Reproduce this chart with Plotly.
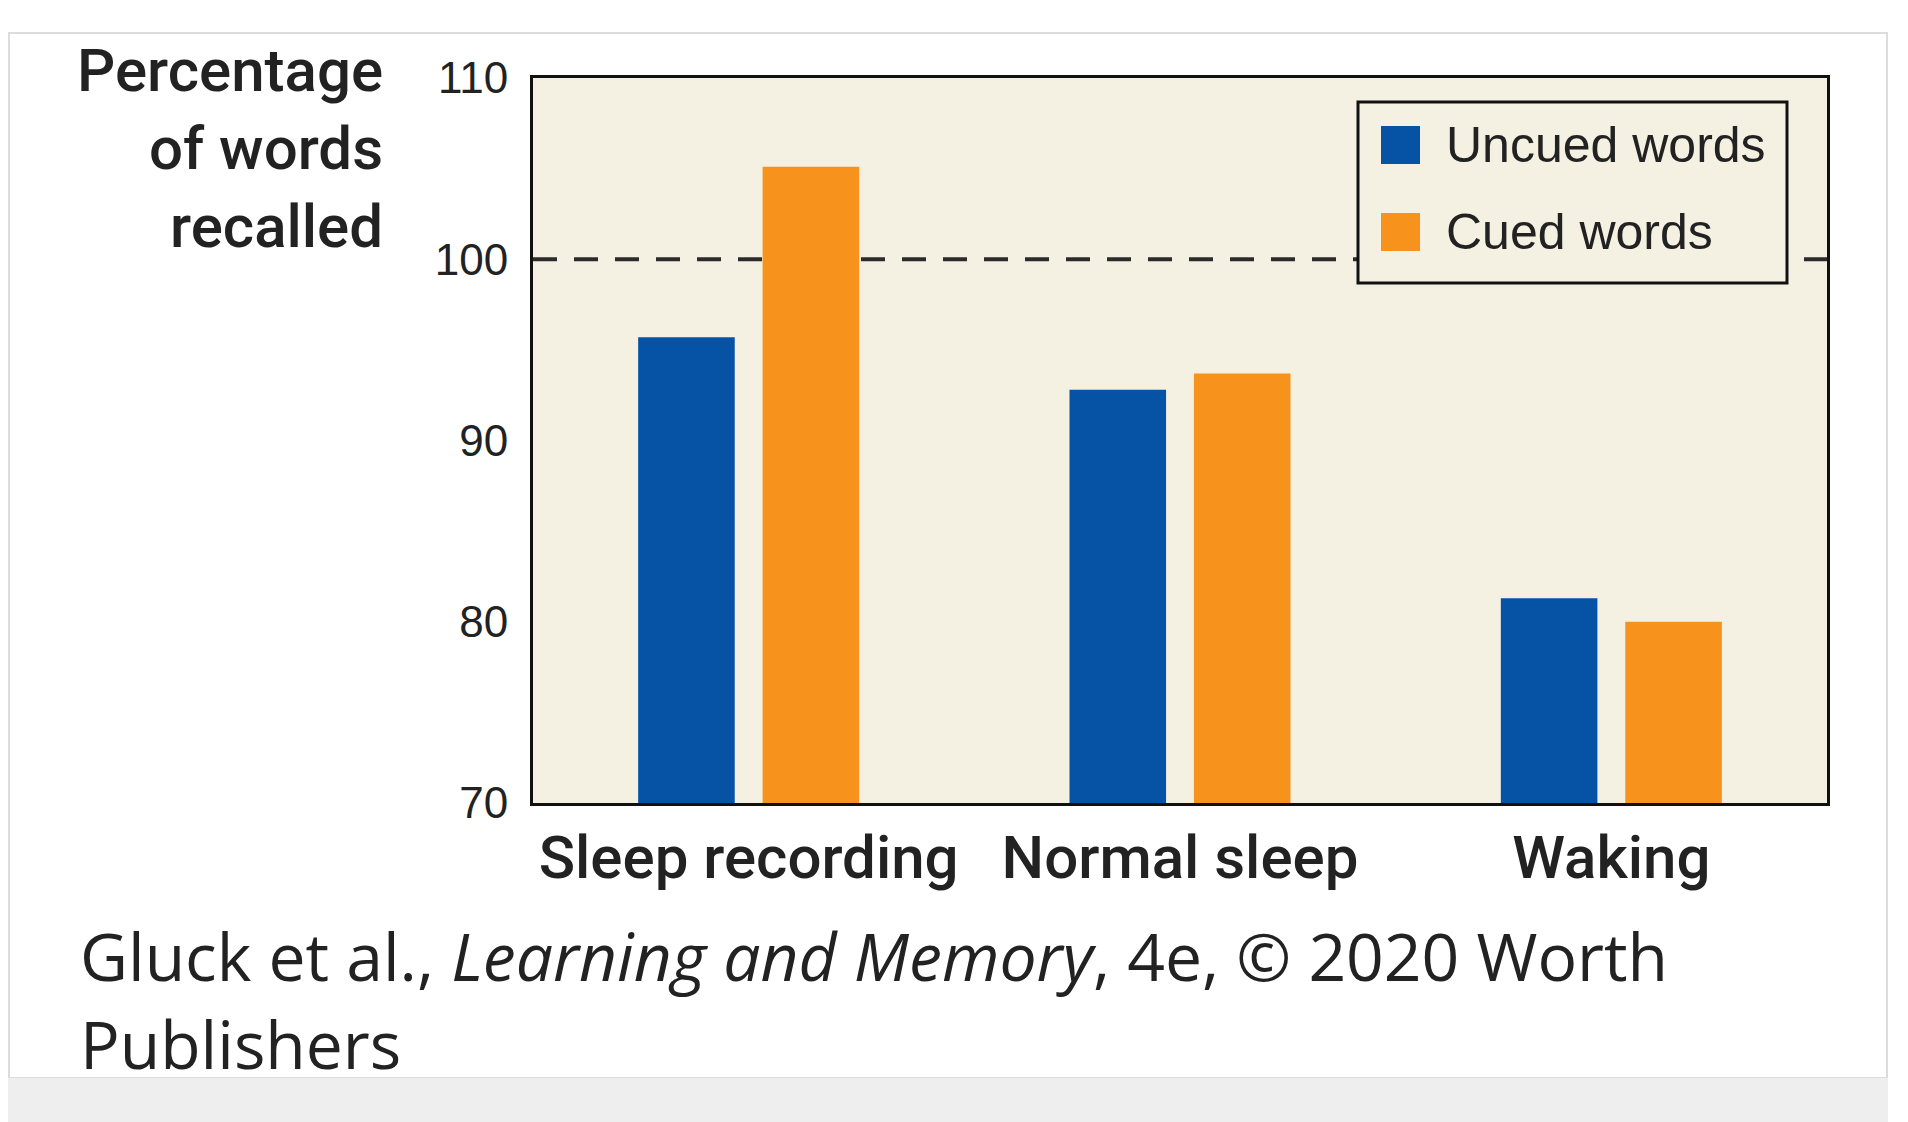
import plotly.graph_objects as go

# data
conditions = ['Sleep recording', 'Normal sleep', 'Waking']
uncued = [95.7, 92.8, 81.3]
cued = [105.1, 93.7, 80.0]
series_names = ['Uncued words', 'Cued words']
series_colors = ['#0652A5', '#F7931C']
y_ticks = [70, 80, 90, 100, 110]
reference_level = 100

OFF = 8  # the page body has an 8px margin
W, H = 1908 - OFF, 1122 - OFF
L, R, T, B = 533, 1827, 78, 803  # plot area in page pixels
bg = '#F4F1E2'


def px_x(p):
    return (p - L) / (R - L)


def px_y(p):
    return (B - p) / (B - T)


fig = go.Figure()
for name, vals, col in zip(series_names, [uncued, cued], series_colors):
    fig.add_trace(go.Bar(x=conditions, y=vals, name=name, marker_color=col,
                         marker_line_width=0, showlegend=False))

shapes = []
# card outline and grey strip at the bottom of the page
shapes.append(dict(type='rect', xref='paper', yref='paper', x0=px_x(OFF + 1), x1=px_x(1887),
                   y0=px_y(1078), y1=px_y(33), line=dict(color='#DCDCDC', width=2),
                   layer='below'))
shapes.append(dict(type='rect', xref='paper', yref='paper', x0=px_x(OFF), x1=px_x(1888),
                   y0=px_y(1122), y1=px_y(1078), line=dict(width=0),
                   fillcolor='#EEEEEE', layer='below'))
# dashed 100% line
shapes.append(dict(type='line', xref='paper', yref='y', x0=0, x1=1,
                   y0=reference_level, y1=reference_level,
                   line=dict(color='#2B2B2B', width=4, dash='24px,17px'), layer='below'))
# legend box
shapes.append(dict(type='rect', xref='paper', yref='paper', x0=px_x(1358), x1=px_x(1787),
                   y0=px_y(283), y1=px_y(102), line=dict(color='#111111', width=3),
                   fillcolor=bg, layer='above'))

annotations = []
item_y = [145, 232]
for name, col, yc in zip(series_names, series_colors, item_y):
    shapes.append(dict(type='rect', xref='paper', yref='paper', x0=px_x(1381), x1=px_x(1420),
                       y0=px_y(yc + 19), y1=px_y(yc - 19), line=dict(width=0),
                       fillcolor=col, layer='above'))
    annotations.append(dict(text=name, xref='paper', yref='paper', x=px_x(1444), y=px_y(yc),
                            xanchor='left', yanchor='middle', showarrow=False,
                            font=dict(family='Liberation Sans, Arial', size=50, color='#222222')))

# y axis title
annotations.append(dict(text='Percentage<br>of words<br>recalled', xref='paper', yref='paper',
                        x=px_x(385), y=px_y(148), xanchor='right', yanchor='middle',
                        align='right', showarrow=False,
                        font=dict(family='Roboto, Liberation Sans', size=60, color='#222222',
                                  weight=500)))

# source caption
cap_font = dict(family='Open Sans, Noto Sans', size=66, color='#222222')
annotations.append(dict(text='Gluck et al., <i>Learning and Memory</i>, 4e, © 2020 Worth',
                        xref='paper', yref='paper', x=px_x(78), y=px_y(955),
                        xanchor='left', yanchor='middle', showarrow=False, font=cap_font))
annotations.append(dict(text='Publishers', xref='paper', yref='paper', x=px_x(78), y=px_y(1043),
                        xanchor='left', yanchor='middle', showarrow=False, font=cap_font))

fig.update_layout(
    width=W, height=H,
    margin=dict(l=L - OFF, r=1908 - R, t=T - OFF, b=1122 - B, pad=0),
    paper_bgcolor='white', plot_bgcolor=bg,
    barmode='group', bargap=0.423, bargroupgap=0.224,
    shapes=shapes, annotations=annotations,
)
fig.update_xaxes(showline=True, mirror=True, linecolor='#111111', linewidth=3,
                 ticks='', showgrid=False, ticklabelstandoff=0,
                 tickfont=dict(family='Roboto, Liberation Sans', size=60, color='#222222',
                               weight=500))
fig.update_yaxes(range=[70, 110], tickvals=y_ticks, showline=True, mirror=True,
                 linecolor='#111111', linewidth=3, ticks='', showgrid=False,
                 zeroline=False, ticklabelstandoff=13,
                 tickfont=dict(family='Liberation Sans, Arial', size=44, color='#222222'))

fig.write_html('out.html')
